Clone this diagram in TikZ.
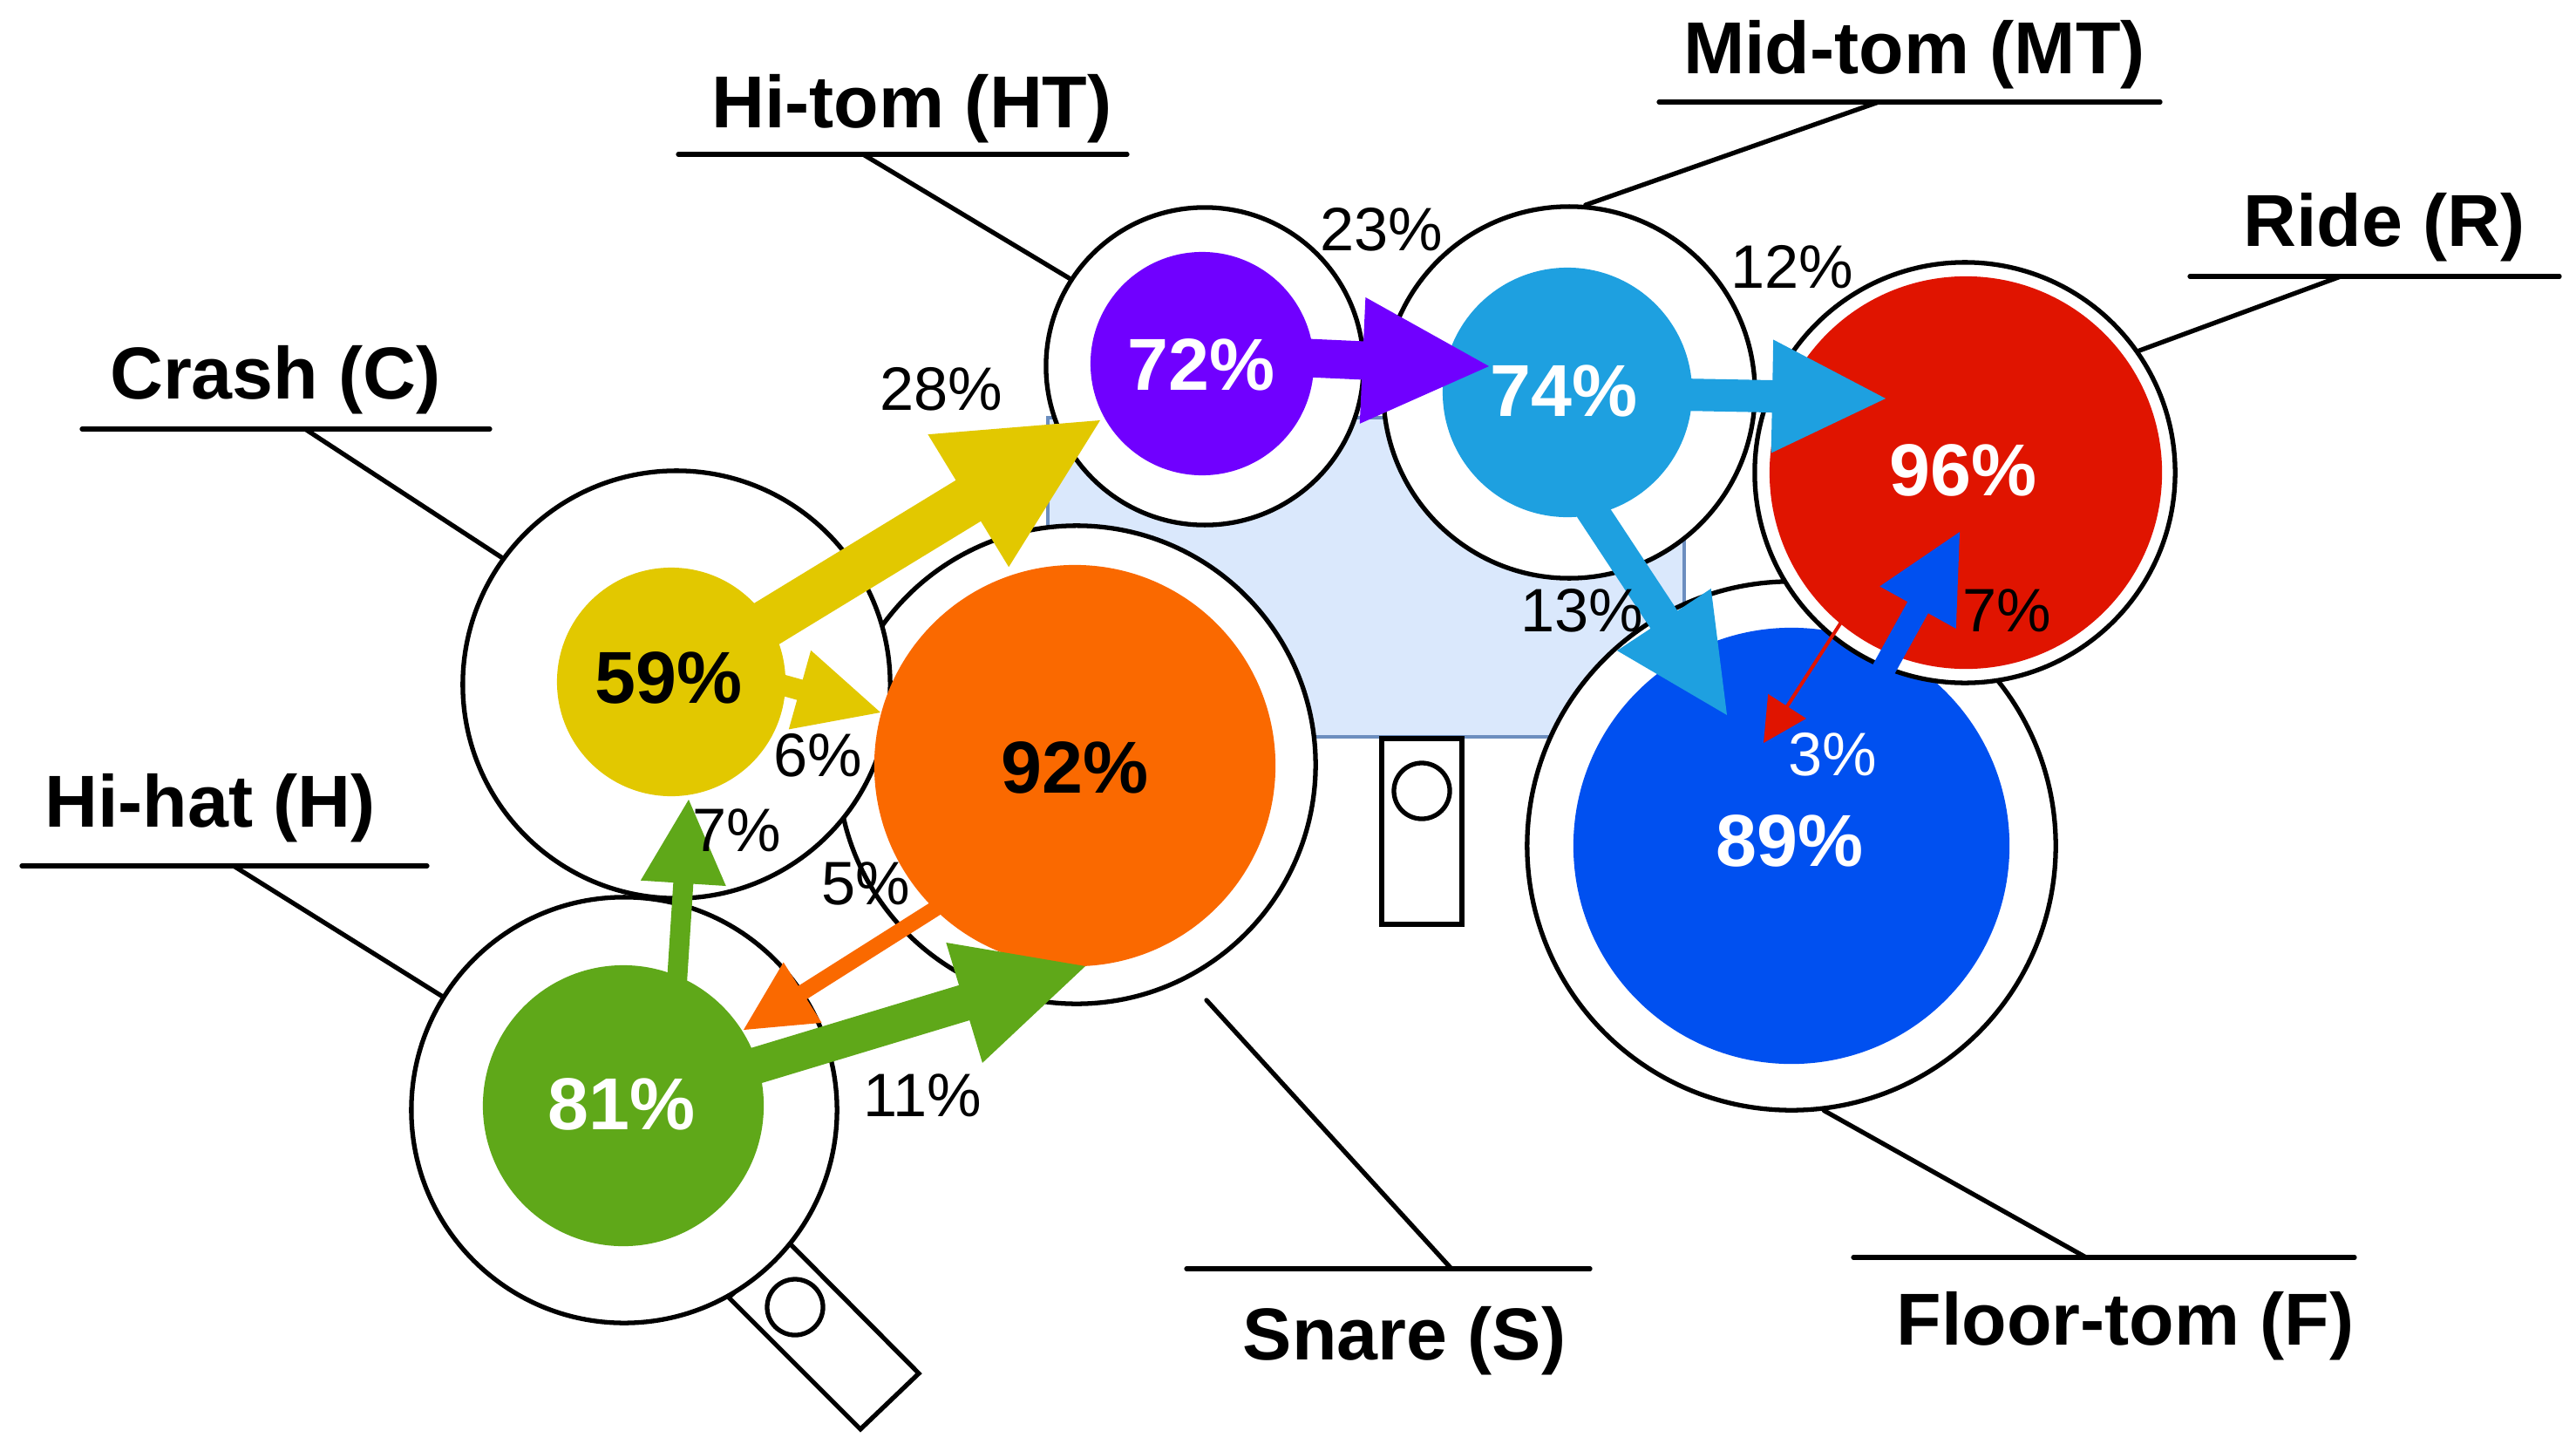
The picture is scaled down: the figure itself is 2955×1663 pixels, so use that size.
\documentclass[tikz,border=0pt]{standalone}
\usepackage{fontspec}
\setmainfont{Liberation Sans}
\usetikzlibrary{calc}
\definecolor{cPurple}{RGB}{112,0,255}
\definecolor{cSky}{RGB}{30,160,224}
\definecolor{cRed}{RGB}{224,20,0}
\definecolor{cOrange}{RGB}{250,105,0}
\definecolor{cYellow}{RGB}{226,200,0}
\definecolor{cGreen}{RGB}{95,168,25}
\definecolor{cBlue}{RGB}{0,80,240}
\definecolor{cKitFill}{RGB}{218,232,252}
\definecolor{cKitLine}{RGB}{108,142,191}
% #1 colour, #2 start, #3 tip, #4 half shaft width, #5 half head width, #6 head length
\newcommand{\blockarrow}[6]{%
  \coordinate (ba) at ($(#3)!#6!(#2)$);
  \fill[#1] ($(#2)!#4!90:(#3)$) -- ($(ba)!#4!-90:(#2)$) -- ($(ba)!#5!-90:(#2)$) -- (#3)
     -- ($(ba)!#5!90:(#2)$) -- ($(ba)!#4!90:(#2)$) -- ($(#2)!#4!-90:(#3)$) -- cycle;}
\begin{document}
\begin{tikzpicture}[x=0.01cm,y=-0.01cm,
  ring/.style={circle,draw=black,line width=1.5pt,fill=white,inner sep=0pt},
  disc/.style={circle,inner sep=0pt,draw=none},
  bigpct/.style={font=\fontsize{24}{28}\selectfont\bfseries,inner sep=0pt},
  pct/.style={font=\fontsize{20}{24}\selectfont,inner sep=0pt},
  title/.style={font=\fontsize{24}{28}\selectfont\bfseries,inner sep=0pt},
  lead/.style={line width=1.5pt,line cap=round},
  pedal/.style={draw=black,line width=1.5pt,fill=white}]
\useasboundingbox (0,0) rectangle (2955,1663);

% bass drum and its pedal
\node[draw=cKitLine,fill=cKitFill,line width=1pt,minimum width=7.3cm,minimum height=3.66cm,inner sep=0pt] (kick) at (1567,662) {};
\node[pedal,minimum width=0.92cm,minimum height=2.13cm,inner sep=0pt] (kickpedal) at (1631,953.5) {};
\draw[line width=1.5pt] (1631,907) circle[radius=0.32cm];

% hi-hat pedal
\coordinate (hp1) at (836,1488); \coordinate (hp2) at (904,1424);
\coordinate (hp3) at (1054,1575); \coordinate (hp4) at (987,1639);
\draw[pedal] (hp1) -- (hp2) -- (hp3) -- (hp4) -- cycle;
\draw[line width=1.5pt] (912,1499) circle[radius=0.32cm];

% drums
\node[ring,minimum size=3.64cm] (HTo) at (1382,420) {};
\node[disc,fill=cPurple,minimum size=2.56cm] (HTi) at (1379,417) {};
\node[ring,minimum size=4.26cm] (MTo) at (1800,450) {};
\node[disc,fill=cSky,minimum size=2.86cm] (MTi) at (1798,450) {};
\node[ring,minimum size=6.06cm] (Fo) at (2055,970) {};
\node[disc,fill=cBlue,minimum size=5.0cm] (Fi) at (2055,970) {};
\node[ring,minimum size=4.82cm] (Ro) at (2254,542) {};
\node[disc,fill=cRed,minimum size=4.5cm] (Ri) at (2255,542) {};
\node[ring,minimum size=5.48cm] (So) at (1235,877) {};
\node[ring,minimum size=4.9cm] (Co) at (776,785) {};
\node[disc,fill=cYellow,minimum size=2.62cm] (Ci) at (770,782) {};
\node[disc,fill=cOrange,minimum size=4.6cm] (Si) at (1233,878) {};
\node[ring,minimum size=4.88cm] (Ho) at (716,1273) {};
\node[disc,fill=cGreen,minimum size=3.22cm] (Hi) at (715,1268) {};

% titles
\node[title] (tHT) at (1046,125) {Hi-tom (HT)};
\node[title] (tMT) at (2196,63) {Mid-tom (MT)};
\node[title] (tR) at (2735,261) {Ride (R)};
\node[title] (tC) at (316,436) {Crash (C)};
\node[title] (tH) at (241,927) {Hi-hat (H)};
\node[title] (tS) at (1611,1538) {Snare (S)};
\node[title] (tF) at (2438,1521) {Floor-tom (F)};

% underlines and leaders
\coordinate (uHTa) at (778,177);  \coordinate (uHTb) at (1293,177); \coordinate (lHT) at (990,177);
\coordinate (uMTa) at (1903,117); \coordinate (uMTb) at (2478,117); \coordinate (lMT) at (2155,117);
\coordinate (uRa) at (2512,317);  \coordinate (uRb) at (2936,317);  \coordinate (lR) at (2685,317);
\coordinate (uCa) at (94,492);    \coordinate (uCb) at (562,492);   \coordinate (lC) at (350,492);
\coordinate (uHa) at (25,993);    \coordinate (uHb) at (490,993);   \coordinate (lH) at (268,993);
\coordinate (uSa) at (1361,1455); \coordinate (uSb) at (1824,1455); \coordinate (lS) at (1665,1455);
\coordinate (eS) at (1384,1147);
\coordinate (uFa) at (2126,1442); \coordinate (uFb) at (2701,1442); \coordinate (lF) at (2393,1442);
\draw[lead] (uHTa) -- (uHTb); \draw[lead] (lHT) -- (HTo.147);
\draw[lead] (uMTa) -- (uMTb); \draw[lead] (lMT) -- (MTo.85.5);
\draw[lead] (uRa) -- (uRb);   \draw[lead] (lR) -- (Ro.35.6);
\draw[lead] (uCa) -- (uCb);   \draw[lead] (lC) -- (Co.144.2);
\draw[lead] (uHa) -- (uHb);   \draw[lead] (lH) -- (Ho.148.8);
\draw[lead] (uSa) -- (uSb);   \draw[lead] (lS) -- (eS);
\draw[lead] (uFa) -- (uFb);   \draw[lead] (lF) -- (Fo.277);

% arrows
\coordinate (tYbig) at (1262,482);
\coordinate (sYsm) at (860,775);  \coordinate (tYsm) at (1010,817);
\coordinate (sPu) at (1379,405);  \coordinate (tPu) at (1708,420);
\coordinate (tMR) at (2163,457);
\coordinate (sMF) at (1770,500);  \coordinate (tMF) at (1981,820);
\coordinate (sFR) at (2088,899);  \coordinate (tFR) at (2248,610);
\coordinate (sRF) at (2158,642);  \coordinate (tRF) at (2023,852);
\coordinate (sHC) at (775,1150);  \coordinate (tHC) at (790,917);
\coordinate (tHS) at (1245,1108);
\coordinate (sSH) at (1106,1021); \coordinate (tSH) at (853,1181);
\blockarrow{cYellow}{Ci.center}{tYbig}{0.275cm}{0.89cm}{1.77cm}
\blockarrow{cYellow}{sYsm}{tYsm}{0.12cm}{0.47cm}{0.96cm}
\blockarrow{cPurple}{sPu}{tPu}{0.22cm}{0.725cm}{1.45cm}
\blockarrow{cSky}{MTi.center}{tMR}{0.185cm}{0.65cm}{1.30cm}
\blockarrow{cSky}{sMF}{tMF}{0.185cm}{0.645cm}{1.31cm}
\blockarrow{cBlue}{sFR}{tFR}{0.135cm}{0.50cm}{0.99cm}
\blockarrow{cRed}{sRF}{tRF}{0.02cm}{0.26cm}{0.50cm}
\blockarrow{cGreen}{sHC}{tHC}{0.115cm}{0.49cm}{0.96cm}
\blockarrow{cGreen}{Hi.center}{tHS}{0.21cm}{0.72cm}{1.45cm}
\blockarrow{cOrange}{sSH}{tSH}{0.09cm}{0.41cm}{0.80cm}

% big percentages
\node[bigpct,text=white] (pHT) at (1378,418) {72\%};
\node[bigpct,text=white] (pMT) at (1794,448) {74\%};
\node[bigpct,text=white] (pR) at (2252,539) {96\%};
\node[bigpct,text=black] (pC) at (767,777) {59\%};
\node[bigpct,text=black] (pS) at (1233,880) {92\%};
\node[bigpct,text=white] (pF) at (2053,964) {89\%};
\node[bigpct,text=white] (pH) at (713,1266) {81\%};

% transition percentages
\node[pct] (q28) at (1080,446) {28\%};
\node[pct] (q23) at (1585,263) {23\%};
\node[pct] (q12) at (2056,306) {12\%};
\node[pct] (q13) at (1815,700) {13\%};
\node[pct] (q7r) at (2302,700) {7\%};
\node[pct,text=white] (q3) at (2102,865) {3\%};
\node[pct] (q6) at (938,866) {6\%};
\node[pct] (q7l) at (845,952) {7\%};
\node[pct] (q5) at (993,1013) {5\%};
\node[pct] (q11) at (1058,1256) {11\%};
\end{tikzpicture}
\end{document}
